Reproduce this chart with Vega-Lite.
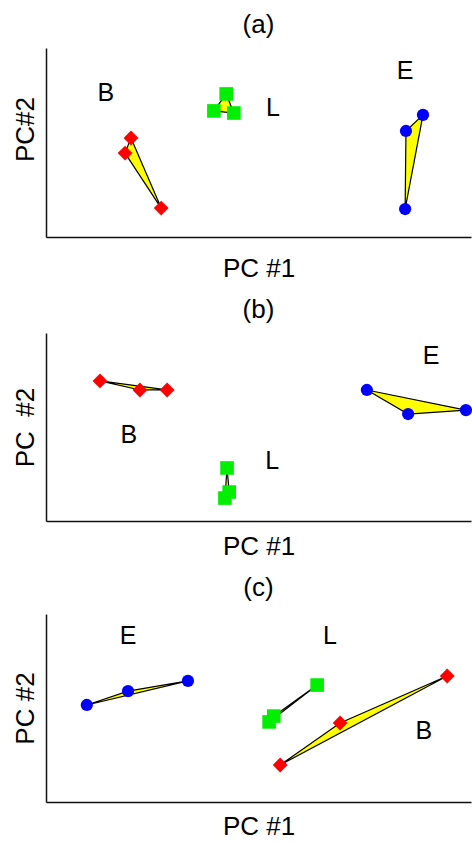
{
  "$schema": "https://vega.github.io/schema/vega-lite/v6.json",
  "padding": {"left": 12, "top": 12, "right": 0, "bottom": 0},
  "spacing": 16,
  "datasets": {
    "pts": [
      {"panel": "a", "group": "B", "x": 20.0, "y": 52.4, "ord": 1},
      {"panel": "a", "group": "B", "x": 18.6, "y": 44.4, "ord": 2},
      {"panel": "a", "group": "B", "x": 27.1, "y": 15.3, "ord": 3},
      {"panel": "a", "group": "L", "x": 42.4, "y": 75.7, "ord": 1},
      {"panel": "a", "group": "L", "x": 39.5, "y": 66.7, "ord": 2},
      {"panel": "a", "group": "L", "x": 44.2, "y": 65.6, "ord": 3},
      {"panel": "a", "group": "E", "x": 84.7, "y": 56.1, "ord": 1},
      {"panel": "a", "group": "E", "x": 88.7, "y": 64.6, "ord": 2},
      {"panel": "a", "group": "E", "x": 84.5, "y": 14.8, "ord": 3},
      {"panel": "b", "group": "B", "x": 12.7, "y": 74.5, "ord": 1},
      {"panel": "b", "group": "B", "x": 22.1, "y": 69.7, "ord": 2},
      {"panel": "b", "group": "B", "x": 28.5, "y": 69.7, "ord": 3},
      {"panel": "b", "group": "L", "x": 42.6, "y": 28.2, "ord": 1},
      {"panel": "b", "group": "L", "x": 43.1, "y": 15.4, "ord": 2},
      {"panel": "b", "group": "L", "x": 42.1, "y": 12.2, "ord": 3},
      {"panel": "b", "group": "E", "x": 75.5, "y": 69.7, "ord": 1},
      {"panel": "b", "group": "E", "x": 85.2, "y": 56.9, "ord": 2},
      {"panel": "b", "group": "E", "x": 98.8, "y": 59.0, "ord": 3},
      {"panel": "c", "group": "E", "x": 9.6, "y": 51.6, "ord": 1},
      {"panel": "c", "group": "E", "x": 19.3, "y": 59.0, "ord": 2},
      {"panel": "c", "group": "E", "x": 33.4, "y": 64.4, "ord": 3},
      {"panel": "c", "group": "L", "x": 63.8, "y": 62.2, "ord": 1},
      {"panel": "c", "group": "L", "x": 53.6, "y": 45.7, "ord": 2},
      {"panel": "c", "group": "L", "x": 52.5, "y": 42.6, "ord": 3},
      {"panel": "c", "group": "B", "x": 94.4, "y": 67.0, "ord": 1},
      {"panel": "c", "group": "B", "x": 69.2, "y": 42.0, "ord": 2},
      {"panel": "c", "group": "B", "x": 55.1, "y": 19.7, "ord": 3}
    ],
    "labels": [
      {"panel": "a", "label": "B", "x": 14.1, "y": 76.2},
      {"panel": "a", "label": "L", "x": 53.4, "y": 68.3},
      {"panel": "a", "label": "E", "x": 84.5, "y": 87.8},
      {"panel": "b", "label": "B", "x": 19.5, "y": 45.7},
      {"panel": "b", "label": "L", "x": 53.2, "y": 31.9},
      {"panel": "b", "label": "E", "x": 90.6, "y": 87.8},
      {"panel": "c", "label": "E", "x": 19.3, "y": 88.3},
      {"panel": "c", "label": "L", "x": 66.8, "y": 88.3},
      {"panel": "c", "label": "B", "x": 88.9, "y": 37.8}
    ]
  },
  "config": {
    "view": {"stroke": null},
    "font": "Liberation Sans",
    "axis": {"ticks": false, "labels": false, "grid": false, "domainColor": "#111111", "domainWidth": 1.5, "titleFontSize": 26, "titleFontWeight": "normal", "titleColor": "#000000", "titleFont": "Liberation Sans"},
    "axisX": {"titlePadding": 18},
    "axisY": {"titlePadding": 8},
    "title": {"fontSize": 26, "fontWeight": "normal", "font": "Liberation Sans", "offset": 10, "color": "#000000"}
  },
  "vconcat": [
    {
      "title": "(a)",
      "width": 425, "height": 189,
      "layer": [
        {"data": {"name": "pts"}, "transform": [{"filter": "datum.panel === 'a'"}],
         "mark": {"type": "line", "interpolate": "linear-closed", "fill": "#ffff00", "stroke": "#000000", "strokeWidth": 1.2},
         "encoding": {
           "x": {"field": "x", "type": "quantitative", "scale": {"domain": [0, 100], "nice": false, "zero": false}, "axis": {"title": "PC #1", "titlePadding": 18}},
           "y": {"field": "y", "type": "quantitative", "scale": {"domain": [0, 100], "nice": false, "zero": false}, "axis": {"title": "PC#2", "titleY": 81}},
           "detail": {"field": "group"},
           "order": {"field": "ord"}}},
        {"data": {"name": "pts"}, "transform": [{"filter": "datum.panel === 'a'"}],
         "mark": {"type": "point", "filled": true, "opacity": 1},
         "encoding": {
           "x": {"field": "x", "type": "quantitative"},
           "y": {"field": "y", "type": "quantitative"},
           "color": {"field": "group", "scale": {"domain": ["B", "L", "E"], "range": ["#ff0000", "#00ee00", "#0000ff"]}, "legend": null},
           "shape": {"field": "group", "scale": {"domain": ["B", "L", "E"], "range": ["diamond", "square", "circle"]}, "legend": null},
           "size": {"field": "group", "type": "nominal", "scale": {"domain": ["B", "L", "E"], "range": [220, 150, 170]}, "legend": null}}},
        {"data": {"name": "labels"}, "transform": [{"filter": "datum.panel === 'a'"}],
         "mark": {"type": "text", "fontSize": 25, "color": "#000000"},
         "encoding": {
           "x": {"field": "x", "type": "quantitative"},
           "y": {"field": "y", "type": "quantitative"},
           "text": {"field": "label"}}}
      ]
    },
    {
      "title": "(b)",
      "width": 425, "height": 188,
      "layer": [
        {"data": {"name": "pts"}, "transform": [{"filter": "datum.panel === 'b'"}],
         "mark": {"type": "line", "interpolate": "linear-closed", "fill": "#ffff00", "stroke": "#000000", "strokeWidth": 1.2},
         "encoding": {
           "x": {"field": "x", "type": "quantitative", "scale": {"domain": [0, 100], "nice": false, "zero": false}, "axis": {"title": "PC #1", "titlePadding": 12}},
           "y": {"field": "y", "type": "quantitative", "scale": {"domain": [0, 100], "nice": false, "zero": false}, "axis": {"title": "PC\u00a0\u00a0#2"}},
           "detail": {"field": "group"},
           "order": {"field": "ord"}}},
        {"data": {"name": "pts"}, "transform": [{"filter": "datum.panel === 'b'"}],
         "mark": {"type": "point", "filled": true, "opacity": 1},
         "encoding": {
           "x": {"field": "x", "type": "quantitative"},
           "y": {"field": "y", "type": "quantitative"},
           "color": {"field": "group", "scale": {"domain": ["B", "L", "E"], "range": ["#ff0000", "#00ee00", "#0000ff"]}, "legend": null},
           "shape": {"field": "group", "scale": {"domain": ["B", "L", "E"], "range": ["diamond", "square", "circle"]}, "legend": null},
           "size": {"field": "group", "type": "nominal", "scale": {"domain": ["B", "L", "E"], "range": [220, 150, 170]}, "legend": null}}},
        {"data": {"name": "labels"}, "transform": [{"filter": "datum.panel === 'b'"}],
         "mark": {"type": "text", "fontSize": 25, "color": "#000000"},
         "encoding": {
           "x": {"field": "x", "type": "quantitative"},
           "y": {"field": "y", "type": "quantitative"},
           "text": {"field": "label"}}}
      ]
    },
    {
      "title": {"text": "(c)", "offset": 13},
      "width": 425, "height": 188,
      "layer": [
        {"data": {"name": "pts"}, "transform": [{"filter": "datum.panel === 'c'"}],
         "mark": {"type": "line", "interpolate": "linear-closed", "fill": "#ffff00", "stroke": "#000000", "strokeWidth": 1.2},
         "encoding": {
           "x": {"field": "x", "type": "quantitative", "scale": {"domain": [0, 100], "nice": false, "zero": false}, "axis": {"title": "PC #1", "titlePadding": 11}},
           "y": {"field": "y", "type": "quantitative", "scale": {"domain": [0, 100], "nice": false, "zero": false}, "axis": {"title": "PC #2"}},
           "detail": {"field": "group"},
           "order": {"field": "ord"}}},
        {"data": {"name": "pts"}, "transform": [{"filter": "datum.panel === 'c'"}],
         "mark": {"type": "point", "filled": true, "opacity": 1},
         "encoding": {
           "x": {"field": "x", "type": "quantitative"},
           "y": {"field": "y", "type": "quantitative"},
           "color": {"field": "group", "scale": {"domain": ["B", "L", "E"], "range": ["#ff0000", "#00ee00", "#0000ff"]}, "legend": null},
           "shape": {"field": "group", "scale": {"domain": ["B", "L", "E"], "range": ["diamond", "square", "circle"]}, "legend": null},
           "size": {"field": "group", "type": "nominal", "scale": {"domain": ["B", "L", "E"], "range": [220, 150, 170]}, "legend": null}}},
        {"data": {"name": "labels"}, "transform": [{"filter": "datum.panel === 'c'"}],
         "mark": {"type": "text", "fontSize": 25, "color": "#000000"},
         "encoding": {
           "x": {"field": "x", "type": "quantitative"},
           "y": {"field": "y", "type": "quantitative"},
           "text": {"field": "label"}}}
      ]
    }
  ]
}
